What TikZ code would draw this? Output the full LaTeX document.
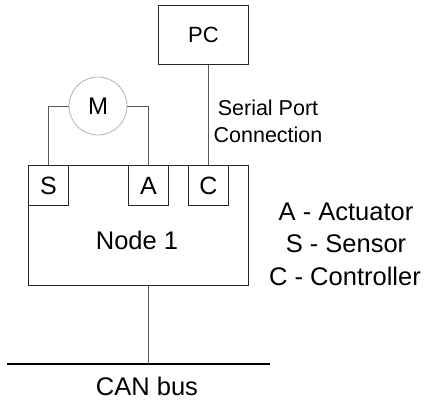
\documentclass[tikz,border=0pt]{standalone}
\usepackage{fontspec}
\setmainfont{Liberation Sans}
\begin{document}
\begin{tikzpicture}[x=1pt,y=-1pt,
  box/.style={draw=black!85,line width=1pt,inner sep=0pt,anchor=north west},
  port/.style={box,minimum width=40pt,minimum height=40pt,font=\fontsize{25}{29}\selectfont},
  wire/.style={draw=black!65,line width=1pt},
  big/.style={font=\fontsize{25.5}{29}\selectfont,inner sep=0pt},
  small/.style={font=\fontsize{21.5}{27}\selectfont,inner sep=0pt,align=center}]
\useasboundingbox (0,0) rectangle (424,402);
% node 1
\node[box,minimum width=220pt,minimum height=120pt] (node1) at (28,165) {};
\node[big] (node1txt) at (137,240) {Node 1};
% ports
\node[port] (sbox) at (28,165) {S};
\node[port] (abox) at (128,165) {A};
\node[port] (cbox) at (188,165) {C};
% PC
\node[box,minimum width=90pt,minimum height=59pt,font=\fontsize{22}{26}\selectfont] (pc) at (158,5) {PC};
% motor
\node[circle,draw=black!30,line width=0.8pt,minimum size=58pt,inner sep=0pt,font=\fontsize{24}{28}\selectfont] (motor) at (98,106) {M};
% wires
\draw[wire] (sbox.north) |- (motor.west);
\draw[wire] (motor.east) -| (abox.north);
\draw[wire] (pc.south -| cbox.north) -- (cbox.north);
\node[small] (serial) at (268,121) {Serial Port\\Connection};
% bus
\coordinate (busL) at (7,364);
\coordinate (busR) at (270,364);
\coordinate (busJ) at (148,364);
\draw[line width=2pt,black] (busL) -- (busR);
\draw[wire] (node1.south -| busJ) -- (busJ);
\node[big] (can) at (147,386) {CAN bus};
% legend
\node[big] (legA) at (346,212) {A - Actuator};
\node[big] (legS) at (346,244) {S - Sensor};
\node[big] (legC) at (345,276) {C - Controller};
\end{tikzpicture}
\end{document}
